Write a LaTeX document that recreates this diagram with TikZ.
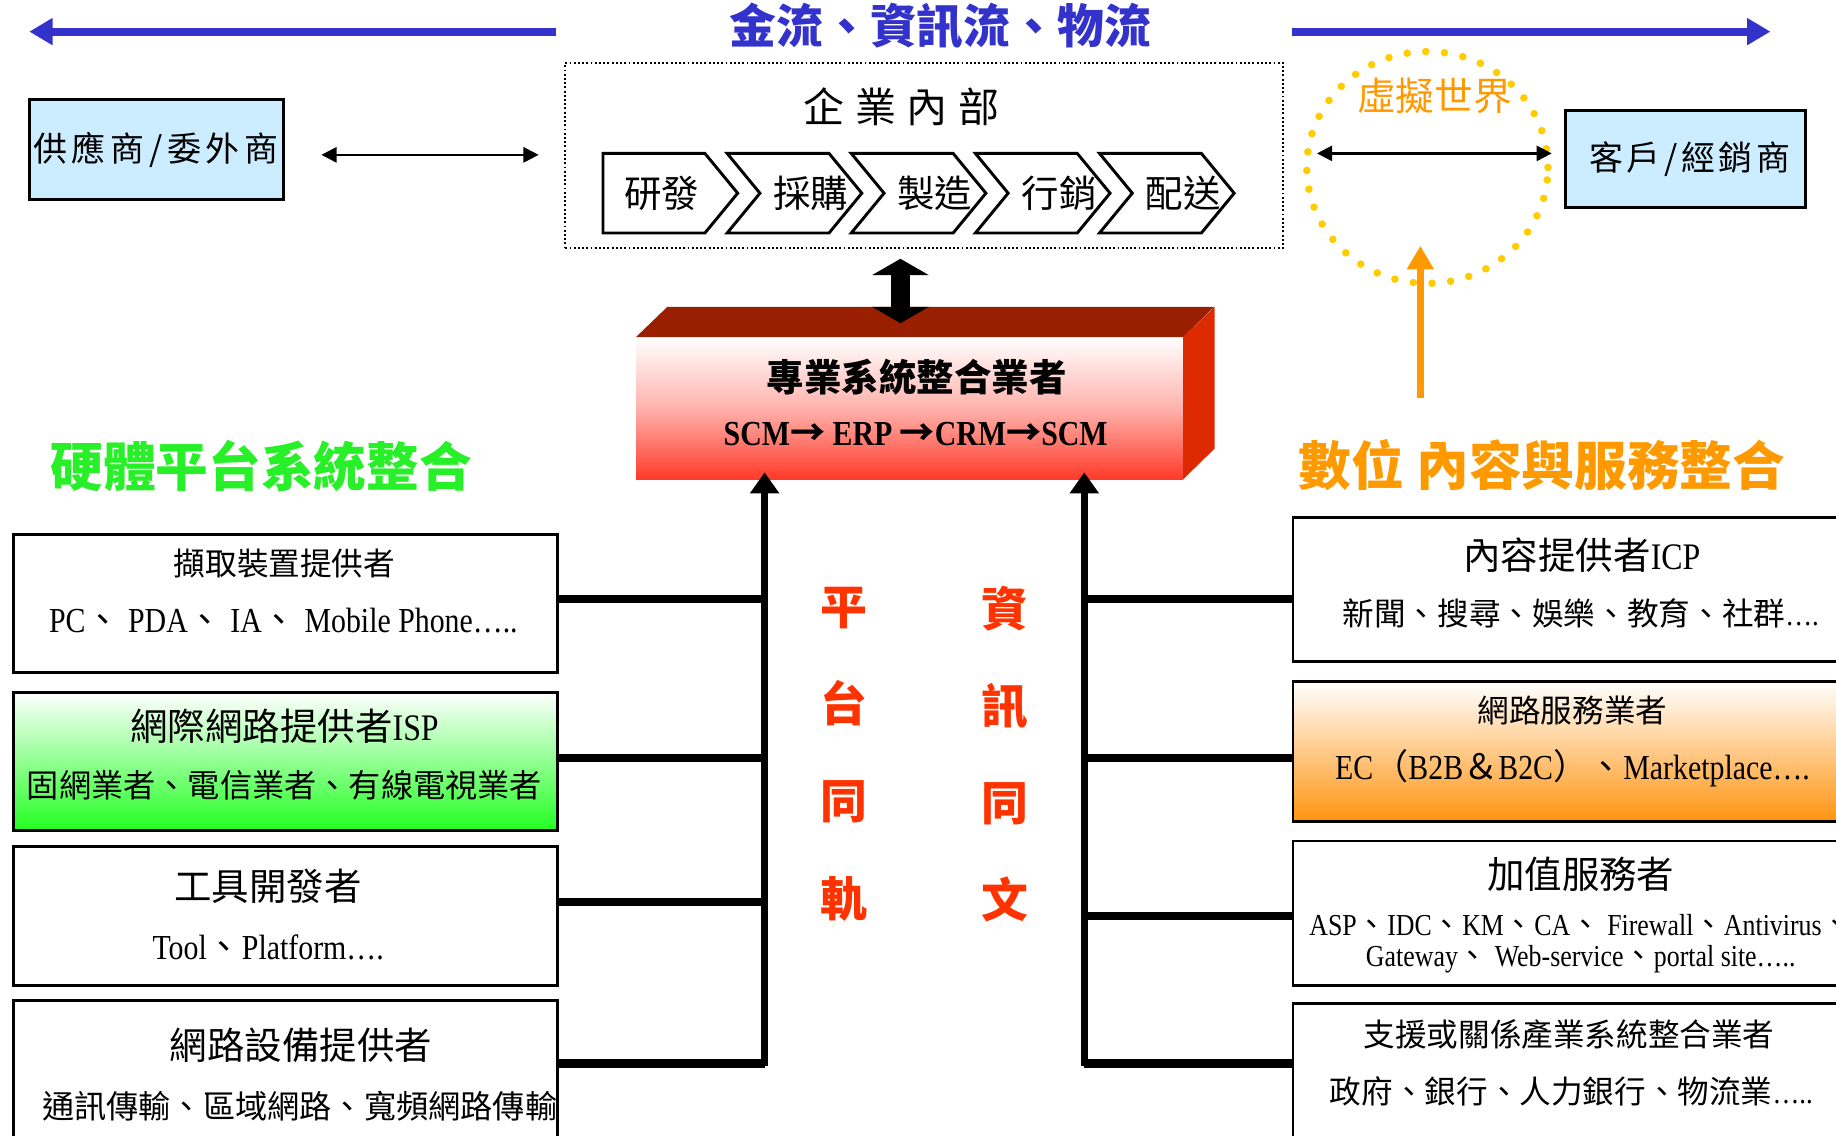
\documentclass[tikz,border=0pt]{standalone}
\usepackage{fontspec}
\setmainfont{Noto Sans CJK TC}
\newfontfamily\timesfont[FakeStretch=0.85]{Liberation Serif}
\newcommand{\lat}[1]{{\timesfont #1}}
\newcommand{\setsize}[1]{\fontsize{#1}{#1}\selectfont}
\usetikzlibrary{arrows.meta,shapes.geometric}

\definecolor{flowblue}{RGB}{51,51,204}
\definecolor{partyblue}{RGB}{204,236,255}
\definecolor{hwgreen}{RGB}{40,240,40}
\definecolor{boxgreen}{RGB}{34,255,34}
\definecolor{svcorange}{RGB}{255,153,0}
\definecolor{boxorange}{RGB}{255,148,17}
\definecolor{dotyellow}{RGB}{255,204,0}
\definecolor{slogan}{RGB}{255,51,0}
\definecolor{blocktop}{RGB}{153,31,0}
\definecolor{blockside}{RGB}{221,42,0}
\definecolor{blockred}{RGB}{255,58,42}

\begin{document}
\begin{tikzpicture}[x=1pt,y=-1pt,
    party/.style={draw,line width=2.5pt,fill=partyblue,inner sep=0pt,anchor=north west},
    card/.style={draw,line width=2.5pt,fill=white,inner sep=0pt,anchor=north west},
    txt/.style={inner sep=0pt},
    stage/.style={draw,line width=2.5pt,fill=white,line join=miter},
    bar/.style={line width=7pt},
    riser/.style={line width=6pt,-{Triangle[width=24pt,length=18pt]}},
    dbl/.style={line width=2pt,{Triangle[width=13pt,length=13pt]}-{Triangle[width=13pt,length=13pt]}},
    flow/.style={line width=7pt,flowblue,-{Triangle[width=22pt,length=20pt]}}]

\useasboundingbox (0,0) rectangle (1568,970);

% top flow
\coordinate (fl1) at (475,27);
\coordinate (fl2) at (25,27);
\coordinate (fr1) at (1103,27);
\coordinate (fr2) at (1512,27);
\draw[flow] (fl1) -- (fl2);
\draw[flow] (fr1) -- (fr2);
\node[txt,flowblue,font=\setsize{40}\bfseries] (ttl) at (803,22) {金流、資訊流、物流};

% enterprise
\node[draw,dotted,line width=1.6pt,minimum width=613pt,minimum height=158pt,inner sep=0pt,anchor=north west] (ent) at (482,53) {};
\node[txt,font=\setsize{35}] (entt) at (770,91) {企\hspace{9pt}業\hspace{9pt}內\hspace{9pt}部};

\draw[stage] (515,131) -- ++(87,0) -- ++(28,34) -- ++(-28,34) -- ++(-87,0) -- cycle;
\node[txt,font=\setsize{32}] (s0) at (565,165) {研發};
\foreach \i/\t in {1/採購,2/製造,3/行銷,4/配送} {
    \draw[stage] ({515+106*\i},131) -- ++(87,0) -- ++(28,34) -- ++(-28,34) -- ++(-87,0) -- ++(28,-34) -- cycle;
    \node[txt,font=\setsize{32}] (s\i) at ({586.5+106*\i},165) {\t};
}

% partners
\node[party,minimum width=217pt,minimum height=85pt] (sup) at (24,84) {};
\node[txt,font=\setsize{29}] (supt) at (133,128) {供\hspace{4pt}應\hspace{4pt}商\hspace{4pt}/\hspace{4pt}委\hspace{4pt}外\hspace{4pt}商};
\draw[dbl] ([shift={(31,4.5)}]sup.east) -- ([shift={(-22,4.5)}]sup.east -| ent.west);

\node[party,minimum width=205pt,minimum height=83pt] (cust) at (1336,93) {};
\node[txt,font=\setsize{29}] (custt) at (1443,136) {客\hspace{3pt}戶\hspace{3pt}/\hspace{3pt}經\hspace{3pt}銷\hspace{3pt}商};

\node[ellipse,draw=dotyellow,line width=6.5pt,dash pattern=on 0pt off 16pt,line cap=round,
      minimum width=206pt,minimum height=198pt,inner sep=0pt] (virt) at (1219,143) {};
\node[txt,svcorange,font=\setsize{33}] (virtt) at (1225,82) {虛擬世界};
\draw[dbl] ([shift={(12,-12)}]virt.west) -- ([shift={(0,-12)}]virt.east);
\coordinate (vb) at (1213,340);
\draw[line width=6pt,svcorange,-{Triangle[width=22pt,length=20pt]}] (vb) -- ++(0,-130);

% integrator block
\node[top color=white,bottom color=blockred,middle color={rgb,255:red,255;green,178;blue,172},
      minimum width=467pt,minimum height=121pt,inner sep=0pt,anchor=north west] (sib) at (543,288) {};
\fill[blocktop] (sib.north west) -- ++(27,-26) -- ++(467,0) -- (sib.north east) -- cycle;
\fill[blockside] (sib.north east) -- ++(27,-26) -- ++(0,121) -- (sib.south east) -- cycle;
\node[txt,font=\setsize{32}\bfseries] (sibt) at (783,322) {專業系統整合業者};
\node[txt,font=\setsize{30}\bfseries] (sibs) at (782,371) {\lat{SCM}→\lat{ ERP }→\lat{CRM}→\lat{SCM}};

\coordinate (up) at (769,221);
\coordinate (dn) at (769,276);
\draw[line width=16pt,{Triangle[width=48pt,length=14pt]}-{Triangle[width=48pt,length=14pt]}] (up) -- (dn);

% headings
\node[txt,hwgreen,font=\setsize{45}\bfseries] (hwh) at (223,398) {硬體平台系統整合};
\node[txt,svcorange,font=\setsize{45}\bfseries] (svh) at (1317,397) {數位 內容與服務整合};

\node[txt,slogan,font=\fontsize{40}{83}\selectfont\bfseries,align=center] (sl1) at (721,644) {平\\台\\同\\軌};
\node[txt,slogan,font=\fontsize{40}{83}\selectfont\bfseries,align=center] (sl2) at (858,644) {資\\訊\\同\\文};

% hardware side
\node[card,minimum width=465pt,minimum height=118pt] (hw1) at (10,455) {};
\node[card,top color=white,bottom color=boxgreen,minimum width=465pt,minimum height=118pt] (hw2) at (10,590) {};
\node[card,minimum width=465pt,minimum height=118pt] (hw3) at (10,722) {};
\node[card,minimum width=465pt,minimum height=137pt] (hw4) at (10,853) {};

\node[txt,font=\setsize{27}] (hw1t) at (243,481) {擷取裝置提供者};
\node[txt,font=\setsize{30}] (hw1s) at (242,530) {\lat{PC}、\lat{ PDA}、\lat{ IA}、\lat{ Mobile Phone…..}};
\node[txt,font=\setsize{32}] (hw2t) at (243,620) {網際網路提供者\lat{ISP}};
\node[txt,font=\setsize{27.5}] (hw2s) at (243,671) {固網業者、電信業者、有線電視業者};
\node[txt,font=\setsize{32}] (hw3t) at (229,757) {工具開發者};
\node[txt,font=\setsize{30}] (hw3s) at (229,809) {\lat{Tool}、\lat{Platform….}};
\node[txt,font=\setsize{32}] (hw4t) at (257,893) {網路設備提供者};
\node[txt,font=\setsize{27.5}] (hw4s) at (256,945) {通訊傳輸、區域網路、寬頻網路傳輸};

% service side
\node[card,minimum width=494pt,minimum height=123pt] (cp1) at (1103,441) {};
\node[card,top color=white,bottom color=boxorange,minimum width=494pt,minimum height=119pt] (cp2) at (1103,581) {};
\node[card,minimum width=494pt,minimum height=123pt] (cp3) at (1103,717) {};
\node[card,minimum width=494pt,minimum height=134pt] (cp4) at (1103,856) {};

\node[txt,font=\setsize{32}] (cp1t) at (1351,474) {內容提供者\lat{ICP}};
\node[txt,font=\setsize{27}] (cp1s) at (1350,524) {新聞、搜尋、娛樂、教育、社群\lat{….}};
\node[txt,font=\setsize{27}] (cp2t) at (1343,607) {網路服務業者};
\node[txt,font=\setsize{30}] (cp2s) at (1343,656) {\lat{EC}（\lat{B2B}＆\lat{B2C}）、\lat{Marketplace….}};
\node[txt,font=\setsize{32}] (cp3t) at (1350,747) {加值服務者};
\node[txt,font=\fontsize{26}{27}\selectfont,align=center] (cp3s) at (1350,806)
    {\lat{ASP}、\lat{IDC}、\lat{KM}、\lat{CA}、\lat{ Firewall}、\lat{Antivirus}、\\
     \lat{Gateway}、\lat{ Web-service}、\lat{portal site…..}};
\node[txt,font=\setsize{27}] (cp4t) at (1340,883) {支援或關係產業系統整合業者};
\node[txt,font=\setsize{27}] (cp4s) at (1342,932) {政府、銀行、人力銀行、物流業\lat{…..}};

% risers and bars
\coordinate (lb) at (653,910);
\coordinate (rb) at (926,910);
\draw[riser,shorten >=-6pt] (lb) -- (lb |- sib.south);
\draw[riser,shorten >=-6pt] (rb) -- (rb |- sib.south);

\foreach \n/\s in {hw1/4,hw2/3,hw3/12,hw4/14.5}
    \draw[bar] ([yshift=\s pt]\n.east) -- ([yshift=\s pt]\n.east -| lb);
\foreach \n/\s in {cp1/-7.5,cp2/-5.5,cp3/-2.5,cp4/16}
    \draw[bar] ([yshift=\s pt]\n.west) -- ([yshift=\s pt]\n.west -| rb);

\end{tikzpicture}
\end{document}
